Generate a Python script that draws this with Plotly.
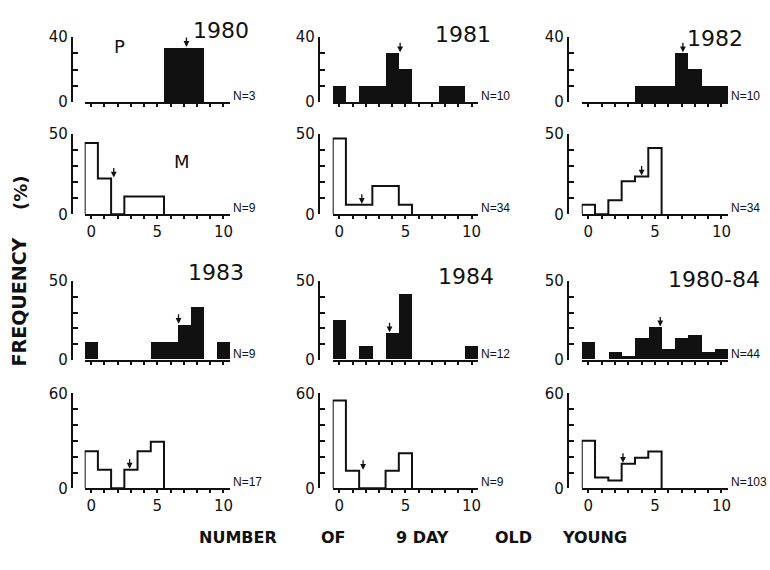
import plotly.graph_objects as go

# ---------------- data ----------------
bins_p = [0, 1, 2, 3, 4, 5, 6, 7, 8, 9, 10]
bins_m = [0, 1, 2, 3, 4, 5]

p1980 = [0, 0, 0, 0, 0, 0, 33.3, 33.3, 33.3, 0, 0]
p1981 = [10, 0, 10, 10, 30, 20, 0, 0, 10, 10, 0]
p1982 = [0, 0, 0, 0, 10, 10, 10, 30, 20, 10, 10]
p1983 = [11.1, 0, 0, 0, 0, 11.1, 11.1, 22.2, 33.3, 0, 11.1]
p1984 = [25, 0, 8.3, 0, 16.7, 41.7, 0, 0, 0, 0, 8.3]
p_all = [11.4, 0, 4.5, 2.3, 13.6, 20.5, 6.8, 13.6, 15.9, 4.5, 6.8]

m1980 = [44.4, 22.2, 0, 11.1, 11.1, 11.1]
m1981 = [47.1, 5.9, 5.9, 17.6, 17.6, 5.9]
m1982 = [5.9, 0, 8.8, 20.6, 23.5, 41.2]
m1983 = [23.5, 11.8, 0, 11.8, 23.5, 29.4]
m1984 = [55.6, 11.1, 0, 0, 11.1, 22.2]
m_all = [30.1, 6.8, 4.9, 15.5, 19.4, 23.3]

n_p = ["N=3", "N=10", "N=10", "N=9", "N=12", "N=44"]
n_m = ["N=9", "N=34", "N=34", "N=17", "N=9", "N=103"]
year_labels = ["1980", "1981", "1982", "1983", "1984", "1980-84"]

# arrows (mean position and tip height)
arrow_p_x = [7.2, 4.6, 7.1, 6.6, 3.8, 5.4]
arrow_p_y = [33.3, 30, 30, 22.2, 16.7, 20.5]
arrow_m_x = [1.7, 1.7, 4.0, 2.9, 1.8, 2.6]
arrow_m_y = [22.2, 5.9, 23.5, 11.8, 11.1, 15.5]

y_max = [40, 50, 50, 60]

# ---------------- layout geometry (pixels) ----------------
W, H = 770, 570
col_x = [(85, 231), (334, 480), (584, 731)]
col_yaxis = [72, 320, 570]
row_y = [(29, 96), (129, 212), (281, 362), (397, 495)]

FONT = "DejaVu Sans"
BLACK = "#111111"

p_series = [p1980, p1981, p1982, p1983, p1984, p_all]
m_series = [m1980, m1981, m1982, m1983, m1984, m_all]

fig = go.Figure()
layout = dict(
    width=W, height=H, margin=dict(l=0, r=0, t=0, b=0),
    paper_bgcolor="white", plot_bgcolor="white", showlegend=False,
    bargap=0, font=dict(family=FONT, color=BLACK),
)
annotations = []

for r in range(4):
    for c in range(3):
        k = r * 3 + c + 1
        is_m = (r % 2 == 1)
        idx = (r // 2) * 3 + c
        xs = "x" if k == 1 else f"x{k}"
        ys = "y" if k == 1 else f"y{k}"
        x0, x1 = col_x[c]
        yt, yb = row_y[r]
        ymax = y_max[r]

        if is_m:
            vals = m_series[idx]
            edges = [b - 0.5 for b in bins_m]
            sx = [edges[0]] + edges + [bins_m[-1] + 0.5]
            sy = [0] + vals + [0]
            fig.add_trace(go.Scatter(x=sx, y=sy, mode="lines",
                                     line=dict(shape="hv", color=BLACK, width=2),
                                     xaxis=xs, yaxis=ys, cliponaxis=False))
            ax_x, ax_y = arrow_m_x[idx], arrow_m_y[idx]
            ntext = n_m[idx]
        else:
            vals = p_series[idx]
            fig.add_trace(go.Bar(x=bins_p, y=vals, width=1,
                                 marker=dict(color=BLACK, line=dict(width=0)),
                                 xaxis=xs, yaxis=ys))
            ax_x, ax_y = arrow_p_x[idx], arrow_p_y[idx]
            ntext = n_p[idx]

        xt = [str(v) if (is_m and v in (0, 5, 10)) else "" for v in bins_p]
        layout["xaxis" if k == 1 else f"xaxis{k}"] = dict(
            domain=[x0 / W, x1 / W], range=[-0.5, 10.5], anchor=ys,
            showline=True, linecolor=BLACK, linewidth=2,
            ticks="outside", tickvals=bins_p, ticktext=xt, ticklen=3,
            tickwidth=1.5, tickcolor=BLACK, showgrid=False, zeroline=False,
            tickfont=dict(size=15, family=FONT, color=BLACK), fixedrange=True,
        )
        yv = list(range(0, ymax + 1, 10))
        ytxt = [str(v) if v in (0, ymax) else "" for v in yv]
        layout["yaxis" if k == 1 else f"yaxis{k}"] = dict(
            domain=[1 - yb / H, 1 - yt / H], range=[0, ymax], anchor="free",
            position=col_yaxis[c] / W,
            showline=True, linecolor=BLACK, linewidth=2,
            ticks="inside", tickvals=yv, ticktext=ytxt, ticklen=5,
            tickwidth=2, tickcolor=BLACK, showgrid=False, zeroline=False,
            tickfont=dict(size=15, family=FONT, color=BLACK), fixedrange=True,
        )
        # mean arrow
        annotations.append(dict(
            x=ax_x, y=ax_y, xref=xs, yref=ys, text="", showarrow=True,
            ax=0, ay=-12, arrowhead=2, arrowsize=0.9, arrowwidth=1.3,
            arrowcolor=BLACK, standoff=1,
        ))
        # N label
        annotations.append(dict(
            x=1, y=0, xref=f"{xs} domain", yref=f"{ys} domain",
            text=ntext, showarrow=False, xanchor="left", yanchor="bottom",
            xshift=1, yshift=-3,
            font=dict(size=12, family="Liberation Sans", color=BLACK),
        ))

# year labels
year_pos = [(222, 22), (465, 26), (718, 30), (217, 272), (468, 276), (717, 279)]
for lab, (px, py) in zip(year_labels, year_pos):
    annotations.append(dict(x=px / W, y=1 - py / H, xref="paper", yref="paper",
                            text=lab, showarrow=False, xanchor="center",
                            yanchor="middle",
                            font=dict(size=22, family=FONT, color=BLACK)))

# P / M markers
annotations.append(dict(x=120 / W, y=1 - 39 / H, xref="paper", yref="paper",
                        text="P", showarrow=False, xanchor="center",
                        yanchor="middle",
                        font=dict(size=18, family=FONT, color=BLACK)))
annotations.append(dict(x=183 / W, y=1 - 157 / H, xref="paper", yref="paper",
                        text="M", showarrow=False, xanchor="center",
                        yanchor="middle",
                        font=dict(size=18, family=FONT, color=BLACK)))

# axis titles
annotations.append(dict(x=20 / W, y=1 - 302 / H, xref="paper", yref="paper",
                        text="<b>FREQUENCY</b>", showarrow=False, textangle=-90,
                        xanchor="center", yanchor="middle",
                        font=dict(size=19, family=FONT, color=BLACK)))
annotations.append(dict(x=20 / W, y=1 - 189 / H, xref="paper", yref="paper",
                        text="<b>(%)</b>", showarrow=False, textangle=-90,
                        xanchor="center", yanchor="middle",
                        font=dict(size=18, family=FONT, color=BLACK)))
for word, px in [("NUMBER", 239), ("OF", 335), ("9 DAY", 424),
                 ("OLD", 516), ("YOUNG", 597)]:
    annotations.append(dict(x=px / W, y=1 - 546 / H, xref="paper", yref="paper",
                            text=f"<b>{word}</b>", showarrow=False,
                            xanchor="center", yanchor="middle",
                            font=dict(size=16, family=FONT, color=BLACK)))

layout["annotations"] = annotations
fig.update_layout(**layout)
fig.write_html("out.html")
